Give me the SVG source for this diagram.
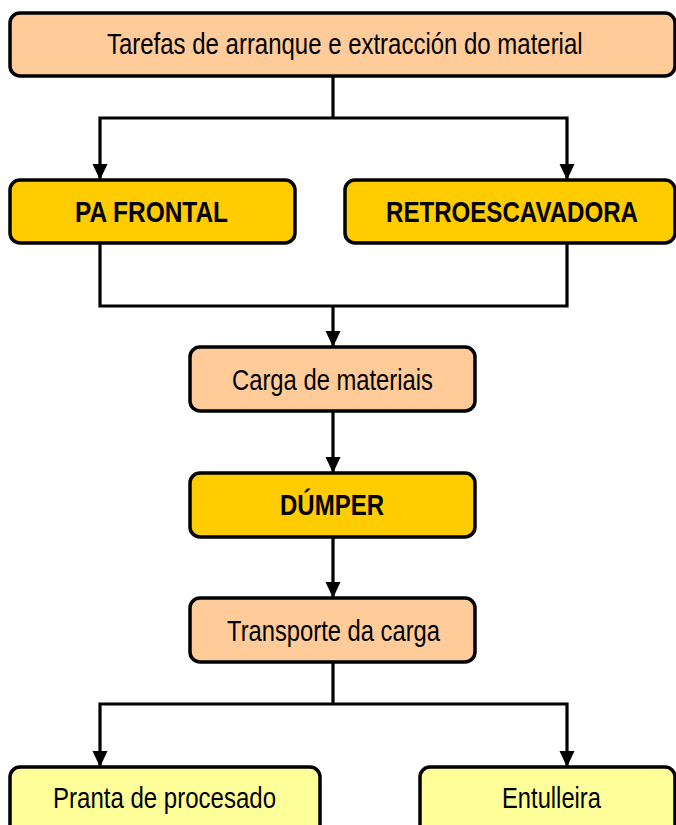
<svg xmlns="http://www.w3.org/2000/svg" width="676" height="825" viewBox="0 0 676 825">
  <style>
    .box { stroke: #000000; stroke-width: 3.5; }
    .peach { fill: #FFCC99; }
    .gold { fill: #FFCC00; }
    .pale { fill: #FFFF99; }
    .lbl { font-family: "Liberation Sans", Arial, sans-serif; font-size: 29px; fill: #000000; }
    .bold { font-weight: bold; }
    .conn { fill: none; stroke: #000000; stroke-width: 3.2; stroke-linejoin: miter; }
  </style>
  <defs>
    <marker id="arrow" markerUnits="userSpaceOnUse" markerWidth="16" markerHeight="16" viewBox="0 0 16 16" refX="16" refY="8" orient="auto">
      <path d="M0,0.5 L16,8 L0,15.5 Z" fill="#000000"/>
    </marker>
  </defs>
  <rect width="676" height="825" fill="#FFFFFF"/>

  <g id="connectors">
    <path class="conn" d="M333,77 V118"/>
    <path class="conn" d="M333,118 H100 V180" marker-end="url(#arrow)"/>
    <path class="conn" d="M333,118 H567 V180" marker-end="url(#arrow)"/>
    <path class="conn" d="M100,243 V306 H567 V243"/>
    <path class="conn" d="M333,306 V347" marker-end="url(#arrow)"/>
    <path class="conn" d="M333,411 V473" marker-end="url(#arrow)"/>
    <path class="conn" d="M333,537 V598" marker-end="url(#arrow)"/>
    <path class="conn" d="M333,662 V704"/>
    <path class="conn" d="M333,704 H100 V767" marker-end="url(#arrow)"/>
    <path class="conn" d="M333,704 H567 V767" marker-end="url(#arrow)"/>
  </g>

  <g id="node-tarefas">
    <rect class="box peach" x="10" y="13" width="665" height="63" rx="10"/>
    <text class="lbl" transform="translate(107,54) scale(0.82,1)" x="0" y="0" textLength="580" lengthAdjust="spacingAndGlyphs">Tarefas de arranque e extracción do material</text>
  </g>
  <g id="node-pa-frontal">
    <rect class="box gold" x="10" y="180" width="285" height="63" rx="10"/>
    <text class="lbl bold" transform="translate(75,222) scale(0.82,1)" x="0" y="0" textLength="186.6" lengthAdjust="spacingAndGlyphs">PA FRONTAL</text>
  </g>
  <g id="node-retroescavadora">
    <rect class="box gold" x="345" y="180" width="330" height="63" rx="10"/>
    <text class="lbl bold" transform="translate(386,222) scale(0.82,1)" x="0" y="0" textLength="307.3" lengthAdjust="spacingAndGlyphs">RETROESCAVADORA</text>
  </g>
  <g id="node-carga">
    <rect class="box peach" x="190" y="347" width="285" height="64" rx="10"/>
    <text class="lbl" transform="translate(232,390) scale(0.82,1)" x="0" y="0" textLength="245.1" lengthAdjust="spacingAndGlyphs">Carga de materiais</text>
  </g>
  <g id="node-dumper">
    <rect class="box gold" x="190" y="473" width="285" height="64" rx="10"/>
    <text class="lbl bold" transform="translate(280,515) scale(0.82,1)" x="0" y="0" textLength="126.8" lengthAdjust="spacingAndGlyphs">DÚMPER</text>
  </g>
  <g id="node-transporte">
    <rect class="box peach" x="190" y="598" width="285" height="64" rx="10"/>
    <text class="lbl" transform="translate(227,641) scale(0.82,1)" x="0" y="0" textLength="259.8" lengthAdjust="spacingAndGlyphs">Transporte da carga</text>
  </g>
  <g id="node-pranta">
    <rect class="box pale" x="10" y="767" width="310" height="80" rx="10"/>
    <text class="lbl" transform="translate(53,808) scale(0.82,1)" x="0" y="0" textLength="272" lengthAdjust="spacingAndGlyphs">Pranta de procesado</text>
  </g>
  <g id="node-entulleira">
    <rect class="box pale" x="420" y="767" width="255" height="80" rx="10"/>
    <text class="lbl" transform="translate(502,808) scale(0.82,1)" x="0" y="0" textLength="120.7" lengthAdjust="spacingAndGlyphs">Entulleira</text>
  </g>
</svg>
